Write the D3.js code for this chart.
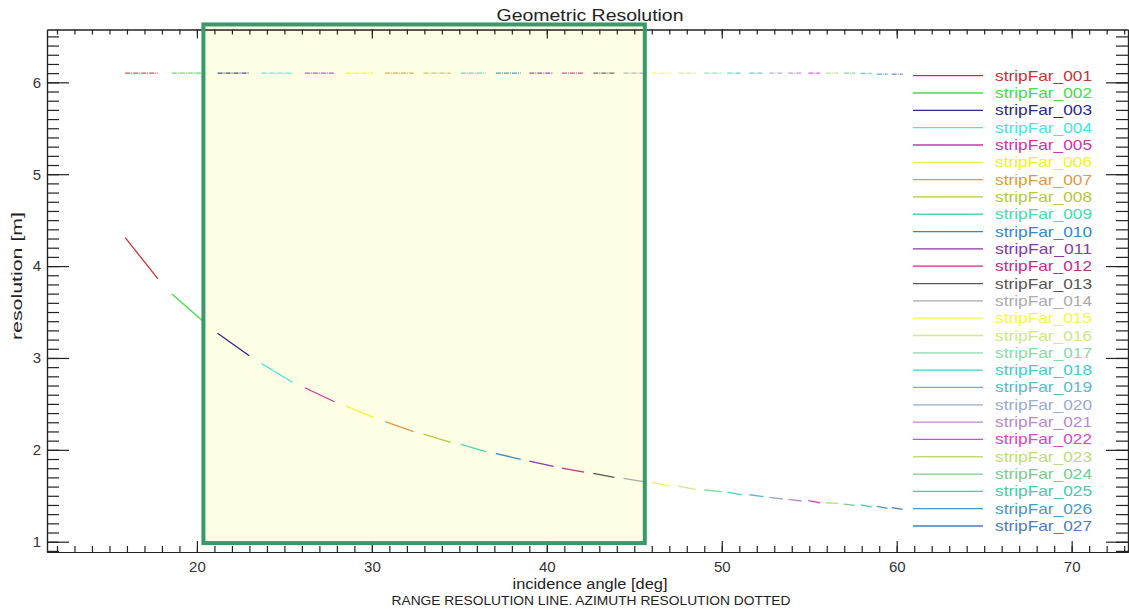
<!DOCTYPE html>
<html>
<head>
<meta charset="utf-8">
<script src="https://cdn.jsdelivr.net/npm/d3@7"></script>
<style>
  html, body { margin: 0; padding: 0; background: #fff; }
  svg { display: block; }
</style>
</head>
<body>
<svg id="chart" width="1129" height="609"></svg>
<script>
// ---------------- DATA ----------------
const strips = ["stripFar_001","stripFar_002","stripFar_003","stripFar_004","stripFar_005","stripFar_006","stripFar_007","stripFar_008","stripFar_009","stripFar_010","stripFar_011","stripFar_012","stripFar_013","stripFar_014","stripFar_015","stripFar_016","stripFar_017","stripFar_018","stripFar_019","stripFar_020","stripFar_021","stripFar_022","stripFar_023","stripFar_024","stripFar_025","stripFar_026","stripFar_027"];
const stripColors = ["#c83434","#44dd44","#2a2a8c","#44e6e6","#cc33aa","#f2f222","#dd9944","#b4c83c","#44dcaa","#3388cc","#8a36aa","#cc2a88","#555555","#aaaaaa","#f6f644","#cce888","#88dca8","#44cccc","#55bbcc","#99aacc","#bb88cc","#dd44cc","#bcdc78","#78cc8c","#44ccaa","#4499cc","#4a7cbe"];
const incStart = [15.90,18.57,21.18,23.69,26.17,28.51,30.76,32.95,35.09,37.09,39.00,40.86,42.66,44.38,46.00,47.52,49.00,50.32,51.58,52.72,53.80,54.95,55.96,56.99,57.94,58.86,59.71];
const incEnd   = [17.77,20.35,22.99,25.46,27.86,30.09,32.38,34.51,36.51,38.51,40.38,42.13,43.86,45.52,47.05,48.51,50.00,51.14,52.38,53.49,54.57,55.62,56.66,57.62,58.57,59.47,60.34];
const rangeStart = [4.31,3.695,3.268,2.94,2.676,2.477,2.306,2.172,2.06,1.96,1.878,1.80,1.744,1.69,1.646,1.606,1.563,1.54,1.511,1.483,1.461,1.446,1.424,1.41,1.40,1.385,1.37];
const rangeEnd   = [3.86,3.40,3.024,2.735,2.523,2.354,2.197,2.08,1.98,1.897,1.82,1.758,1.70,1.653,1.606,1.57,1.544,1.51,1.49,1.465,1.443,1.424,1.418,1.396,1.38,1.363,1.353];
const azimuthRes = [6.10,6.10,6.10,6.10,6.10,6.10,6.10,6.10,6.10,6.10,6.10,6.10,6.10,6.10,6.10,6.10,6.10,6.10,6.10,6.10,6.10,6.10,6.10,6.10,6.098,6.09,6.09];
const xTickLabels = [20,30,40,50,60,70];
const yTickLabels = [1,2,3,4,5,6];
const xDomain = [11.43, 73.22];
const yDomain = [0.888, 6.575];
const highlightX = [20.37, 45.6];
const highlightY = [0.985, 6.63];

// ---------------- LAYOUT ----------------
const svg = d3.select("#chart");
const L = 47, R = 1128, T = 29.5, B = 552;
const x = d3.scaleLinear().domain(xDomain).range([L, R]);
const y = d3.scaleLinear().domain(yDomain).range([B, T]);
const fontFam = "'Liberation Sans', Arial, sans-serif";
const axisColor = "#222";

// highlight fill (behind)
svg.append("rect")
  .attr("x", x(highlightX[0])).attr("y", y(highlightY[1]))
  .attr("width", x(highlightX[1]) - x(highlightX[0]))
  .attr("height", y(highlightY[0]) - y(highlightY[1]))
  .attr("fill", "#fefee4");

// tick value sets
const xMinor = d3.range(12, 74, 1);
const yMinor = d3.range(9, 66, 1).map(v => v / 10);

function styleAxis(g) {
  g.select(".domain").attr("stroke", axisColor).attr("stroke-width", 1.2);
  g.selectAll(".tick line").attr("stroke", axisColor).attr("stroke-width", 1.2);
  g.selectAll("text").attr("fill", "#333").attr("font-family", fontFam).attr("font-size", 15);
}

// minor ticks
svg.append("g").attr("transform", `translate(0,${B})`)
  .call(d3.axisBottom(x).tickValues(xMinor).tickSize(-6).tickSizeOuter(0).tickFormat(""))
  .call(styleAxis);
svg.append("g").attr("transform", `translate(0,${T})`)
  .call(d3.axisTop(x).tickValues(xMinor).tickSize(-5).tickSizeOuter(0).tickFormat(""))
  .call(styleAxis);
svg.append("g").attr("transform", `translate(${L},0)`)
  .call(d3.axisLeft(y).tickValues(yMinor).tickSize(-12).tickSizeOuter(0).tickFormat(""))
  .call(styleAxis);
svg.append("g").attr("transform", `translate(${R},0)`)
  .call(d3.axisRight(y).tickValues(yMinor).tickSize(-12).tickSizeOuter(0).tickFormat(""))
  .call(styleAxis);

// major ticks
svg.append("g").attr("transform", `translate(0,${B})`)
  .call(d3.axisBottom(x).tickValues(xTickLabels).tickSize(-11).tickSizeOuter(0).tickPadding(9).tickFormat(d3.format("d")))
  .call(styleAxis);
svg.append("g").attr("transform", `translate(0,${T})`)
  .call(d3.axisTop(x).tickValues(xTickLabels).tickSize(-9).tickSizeOuter(0).tickFormat(""))
  .call(styleAxis);
svg.append("g").attr("transform", `translate(${L},0)`)
  .call(d3.axisLeft(y).tickValues(yTickLabels).tickSize(-22).tickSizeOuter(0).tickPadding(6).tickFormat(d3.format("d")))
  .call(styleAxis);
svg.append("g").attr("transform", `translate(${R},0)`)
  .call(d3.axisRight(y).tickValues(yTickLabels).tickSize(-22).tickSizeOuter(0).tickFormat(""))
  .call(styleAxis);

// ---------------- SERIES ----------------
const line = d3.line().x(d => x(d[0])).y(d => y(d[1]));
const gLines = svg.append("g");
strips.forEach((name, i) => {
  gLines.append("path")
    .attr("d", line([[incStart[i], rangeStart[i]], [incEnd[i], rangeEnd[i]]]))
    .attr("fill", "none").attr("stroke", stripColors[i]).attr("stroke-width", 1.3);
  gLines.append("path")
    .attr("d", line([[incStart[i], azimuthRes[i]], [incEnd[i], azimuthRes[i]]]))
    .attr("fill", "none").attr("stroke", stripColors[i]).attr("stroke-width", 1.3)
    .attr("stroke-opacity", 0.85)
    .attr("stroke-dasharray", "5,1,1,1");
});

// highlight border (on top)
svg.append("rect")
  .attr("x", x(highlightX[0])).attr("y", y(highlightY[1]))
  .attr("width", x(highlightX[1]) - x(highlightX[0]))
  .attr("height", y(highlightY[0]) - y(highlightY[1]))
  .attr("fill", "none").attr("stroke", "#389a68").attr("stroke-width", 4);

// ---------------- LEGEND ----------------
const legX1 = 913, legX2 = 983, legTextX = 995, legY0 = 75.7, legDy = 17.32;
const gLeg = svg.append("g");
strips.forEach((name, i) => {
  const yy = legY0 + i * legDy;
  gLeg.append("line").attr("x1", legX1).attr("x2", legX2).attr("y1", yy).attr("y2", yy)
    .attr("stroke", stripColors[i]).attr("stroke-width", 1.3);
  gLeg.append("text").attr("x", legTextX).attr("y", yy + 5)
    .attr("font-family", fontFam).attr("font-size", 15)
    .attr("textLength", 97).attr("lengthAdjust", "spacingAndGlyphs")
    .attr("fill", stripColors[i]).text(name);
});

// ---------------- TEXTS ----------------
svg.append("text").attr("x", 590).attr("y", 21).attr("text-anchor", "middle")
  .attr("font-family", fontFam).attr("font-size", 16).attr("fill", "#222")
  .attr("textLength", 187).attr("lengthAdjust", "spacingAndGlyphs")
  .text("Geometric Resolution");
svg.append("text").attr("x", 590).attr("y", 589).attr("text-anchor", "middle")
  .attr("font-family", fontFam).attr("font-size", 14).attr("fill", "#222")
  .attr("textLength", 155).attr("lengthAdjust", "spacingAndGlyphs")
  .text("incidence angle [deg]");
svg.append("text").attr("x", 591).attr("y", 605).attr("text-anchor", "middle")
  .attr("font-family", fontFam).attr("font-size", 13).attr("fill", "#222")
  .attr("textLength", 399).attr("lengthAdjust", "spacingAndGlyphs")
  .text("RANGE RESOLUTION LINE. AZIMUTH RESOLUTION DOTTED");
svg.append("text").attr("transform", "translate(22,276) rotate(-90)").attr("text-anchor", "middle")
  .attr("font-family", fontFam).attr("font-size", 15).attr("fill", "#222")
  .attr("textLength", 128).attr("lengthAdjust", "spacingAndGlyphs")
  .text("resolution [m]");
</script>
</body>
</html>
